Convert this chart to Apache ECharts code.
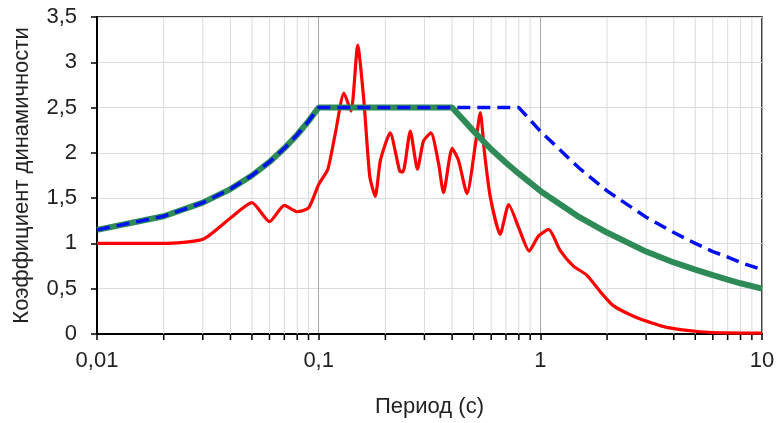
<!DOCTYPE html>
<html>
<head>
<meta charset="utf-8">
<script src="https://cdn.jsdelivr.net/npm/echarts@6/dist/echarts.min.js"></script>
<style>
  html, body { margin: 0; padding: 0; background: #fff; }
  #chart { width: 778px; height: 423px; }
</style>
</head>
<body>
<div id="chart"></div>
<script>
// Нормативный спектр (сплошной зелёный)
var periodGreen = [0.01, 0.02, 0.03, 0.04, 0.05, 0.06, 0.07, 0.08, 0.09, 0.1, 0.4, 0.5, 0.6, 0.7, 0.8, 1, 1.5, 2, 3, 4, 5, 6, 7, 8, 10];
var valueGreen = [1.15, 1.3, 1.45, 1.6, 1.75, 1.9, 2.05, 2.2, 2.35, 2.5, 2.5, 2.24, 2.04, 1.89, 1.77, 1.58, 1.29, 1.12, 0.91, 0.79, 0.71, 0.65, 0.6, 0.56, 0.5];

// Спектр с удлинённой площадкой (синий пунктир)
var periodBlue = [0.01, 0.02, 0.03, 0.04, 0.05, 0.06, 0.07, 0.08, 0.09, 0.1, 0.8, 1, 1.5, 2, 3, 4, 5, 6, 7, 8, 10];
var valueBlue = [1.15, 1.3, 1.45, 1.6, 1.75, 1.9, 2.05, 2.2, 2.35, 2.5, 2.5, 2.24, 1.83, 1.58, 1.29, 1.12, 1.0, 0.91, 0.85, 0.79, 0.71];

// Спектр по записи (красный)
var periodRed = [0.01, 0.02, 0.03, 0.04, 0.05, 0.06, 0.07, 0.08, 0.09, 0.1, 0.11, 0.119, 0.13, 0.14, 0.15, 0.16, 0.17, 0.18, 0.19, 0.21, 0.232, 0.24, 0.259, 0.279, 0.297, 0.321, 0.347, 0.366, 0.4, 0.427, 0.467, 0.51, 0.536, 0.56, 0.594, 0.659, 0.72, 0.8, 0.89, 0.98, 1.09, 1.23, 1.41, 1.62, 1.86, 2.14, 2.73, 3.72, 5.26, 7, 10];
var valueRed = [1.0, 1.0, 1.045, 1.28, 1.45, 1.24, 1.42, 1.35, 1.39, 1.65, 1.82, 2.22, 2.66, 2.46, 3.19, 2.57, 1.74, 1.52, 1.92, 2.22, 1.8, 1.79, 2.24, 1.82, 2.13, 2.22, 1.89, 1.56, 2.05, 1.92, 1.55, 2.1, 2.445, 2.0, 1.52, 1.1, 1.43, 1.17, 0.916, 1.08, 1.155, 0.92, 0.75, 0.65, 0.47, 0.31, 0.18, 0.073, 0.025, 0.012, 0.01];

// Промежуточные деления логарифмической оси
var minorPeriods = [0.02, 0.03, 0.04, 0.05, 0.06, 0.07, 0.08, 0.09, 0.2, 0.3, 0.4, 0.5, 0.6, 0.7, 0.8, 0.9, 2, 3, 4, 5, 6, 7, 8, 9];

var yMin = 0, yMax = 3.5, yStep = 0.5;

function pairs(xs, ys) {
    var out = [];
    for (var i = 0; i < xs.length; i++) out.push([xs[i], ys[i]]);
    return out;
}
function comma(v) {
    return String(v).replace('.', ',');
}

var font = 'Liberation Sans, Arial, sans-serif';
var chart = echarts.init(document.getElementById('chart'));

var option = {
    backgroundColor: '#fff',
    animation: false,
    grid: {
        left: 97, right: 16, top: 17, bottom: 88,
        show: true, borderColor: '#000', borderWidth: 1.5, backgroundColor: 'transparent'
    },
    xAxis: {
        type: 'log',
        logBase: 10,
        min: 0.01,
        max: 10,
        name: 'Период (с)',
        nameLocation: 'middle',
        nameGap: 62,
        nameTextStyle: { fontFamily: font, fontSize: 22, color: '#222' },
        axisLine: { lineStyle: { color: '#000', width: 2 } },
        axisTick: { show: true, length: 6, lineStyle: { color: '#000', width: 1.5 } },
        axisLabel: { fontFamily: font, fontSize: 22, color: '#222', margin: 16, formatter: comma },
        splitLine: { show: true, lineStyle: { color: '#a8a8a8', width: 1 } }
    },
    yAxis: {
        type: 'value',
        min: yMin,
        max: yMax,
        interval: yStep,
        name: 'Коэффициент динамичности',
        nameLocation: 'middle',
        nameGap: 64,
        nameTextStyle: { fontFamily: font, fontSize: 22, color: '#222' },
        axisLine: { show: true, lineStyle: { color: '#000', width: 2 } },
        axisTick: { show: true, length: 6, lineStyle: { color: '#000', width: 1.5 } },
        axisLabel: { fontFamily: font, fontSize: 22, color: '#222', margin: 20, formatter: comma },
        splitLine: { show: true, lineStyle: { color: '#dcdcdc', width: 1 } }
    },
    series: [
        {
            // промежуточная сетка и засечки на оси X
            type: 'custom',
            silent: true,
            z: 1,
            data: minorPeriods.map(function(p) { return [p]; }),
            encode: { x: 0 },
            renderItem: function(params, api) {
                var top = api.coord([api.value(0), yMax]);
                var bot = api.coord([api.value(0), yMin]);
                return {
                    type: 'group',
                    children: [
                        { type: 'line', shape: { x1: top[0], y1: top[1], x2: bot[0], y2: bot[1] },
                          style: { stroke: '#dcdcdc', lineWidth: 1 } },
                        { type: 'line', shape: { x1: bot[0], y1: bot[1], x2: bot[0], y2: bot[1] + 6 },
                          style: { stroke: '#000', lineWidth: 1.5 } }
                    ]
                };
            }
        },
        {
            name: 'Нормативный',
            type: 'line',
            z: 3,
            showSymbol: false,
            data: pairs(periodGreen, valueGreen),
            lineStyle: { color: '#2e8b57', width: 6 }
        },
        {
            name: 'Удлинённая площадка',
            type: 'line',
            z: 4,
            showSymbol: false,
            data: pairs(periodBlue, valueBlue),
            lineStyle: { color: '#0010f0', width: 3.5, type: [13, 7] }
        },
        {
            name: 'Запись',
            type: 'line',
            z: 2,
            showSymbol: false,
            smooth: 0.2,
            data: pairs(periodRed, valueRed),
            lineStyle: { color: '#ff0000', width: 3.2 }
        }
    ]
};
chart.setOption(option);
</script>
</body>
</html>
